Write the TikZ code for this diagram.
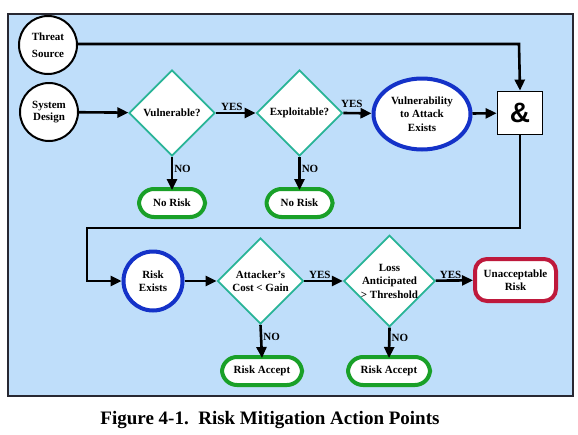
\documentclass[tikz,border=0pt]{standalone}
\usepackage{fontspec}
\setmainfont{Liberation Serif}
\newfontfamily\ampfont{Liberation Sans}
\usetikzlibrary{shapes.geometric,arrows.meta}
\definecolor{panelbg}{RGB}{191,222,250}
\definecolor{panelline}{RGB}{40,40,50}
\definecolor{teal}{RGB}{40,180,150}
\definecolor{okgreen}{RGB}{25,160,40}
\definecolor{exblue}{RGB}{20,50,200}
\definecolor{riskred}{RGB}{190,25,60}
\tikzset{
  txt/.style={font=\bfseries\fontsize{11}{13.5}\selectfont, align=center, text=black},
  source/.style={txt, circle, draw=black, line width=2pt, fill=white, minimum size=58pt, inner sep=0pt},
  decision/.style={txt, diamond, draw=teal, line width=1.8pt, fill=white, minimum width=86pt, minimum height=86pt, inner sep=0pt},
  outcome/.style={txt, rectangle, rounded corners=15pt, draw=okgreen, line width=4pt, fill=white, minimum width=66pt, minimum height=28pt, inner sep=0pt},
  state/.style={txt, draw=exblue, line width=4pt, fill=white, inner sep=0pt},
  flow/.style={line width=2.6pt, draw=black, -{Triangle[length=11pt,width=10pt]}},
  lbl/.style={font=\bfseries\fontsize{11}{13}\selectfont, inner sep=1pt},
}
\begin{document}
\begin{tikzpicture}[x=1pt,y=-1pt]
\useasboundingbox (0,0) rectangle (578,434);
\fill[white] (0,0) rectangle (578,434);
\draw[fill=panelbg, draw=panelline, line width=1.2pt] (8,14) rectangle (573,396);

% top row
\node[source, font=\bfseries\fontsize{11}{17}\selectfont] (threat) at (48,45) {Threat\\Source};
\node[source, font=\bfseries\fontsize{11}{12.5}\selectfont] (design) at (49,112) {System\\Design};
\node[decision] (vuln) at (172,113) {Vulnerable?};
\node[decision] (expl) at (299.5,113) {Exploitable?};
\node[state, ellipse, minimum width=97pt, minimum height=71pt] (vexist) at (422,114) {Vulnerability\\to Attack\\Exists};
\node[rectangle, draw=black, line width=1.8pt, fill=white, minimum width=45pt, minimum height=43pt, inner sep=0pt, font=\ampfont\bfseries\fontsize{28}{28}\selectfont] (and) at (520,113) {\&};
\node[outcome] (norisk1) at (172,203) {No Risk};
\node[outcome] (norisk2) at (299.5,203) {No Risk};

% bottom row
\node[state, circle, minimum size=59pt] (rexist) at (153,281) {Risk\\Exists};
\node[decision] (cost) at (260.5,281) {Attacker's\\Cost < Gain};
\node[decision] (loss) at (389.5,281) {Loss\\Anticipated\\> Threshold};
\node[txt, rectangle, rounded corners=12pt, draw=riskred, line width=4pt, fill=white, minimum width=81pt, minimum height=42pt, inner sep=0pt] (unacc) at (515.5,280) {Unacceptable\\Risk};
\node[outcome, minimum width=80pt] (accept1) at (262,371) {Risk Accept};
\node[outcome, minimum width=82pt] (accept2) at (389,371) {Risk Accept};

\coordinate (tcorner) at (519,44);
\coordinate (rdown) at (520,228);
\coordinate (rleft) at (87,228);
\coordinate (rmid) at (87,281);

% connectors
\draw[flow] (threat.east |- tcorner) -- (tcorner) -- (and.north);
\draw[flow] (design) -- (vuln);
\draw[flow] (vuln) -- node[lbl, above, pos=0.4] {YES} (expl);
\draw[flow] (expl.east) -- node[lbl, above, pos=0.3, yshift=3pt] {YES} (vexist);
\draw[flow] (vexist) -- (and);
\draw[flow] (vuln.south) -- node[lbl, right, pos=0.35] {NO} ([yshift=-3pt]norisk1.north);
\draw[flow] (expl.south) -- node[lbl, right, pos=0.35] {NO} ([yshift=-3pt]norisk2.north);
\draw[flow] (and.south) -- (rdown) -- (rleft) -- (rmid) -- (rexist);
\draw[flow] (rexist) -- (cost);
\draw[flow] (cost) -- node[lbl, above, pos=0.4] {YES} (loss);
\draw[flow] (loss) -- node[lbl, above, pos=0.4] {YES} (unacc);
\draw[flow] (cost.south) -- node[lbl, right, pos=0.35] {NO} ([yshift=-3pt]accept1.north);
\draw[flow] (loss.south) -- node[lbl, right, pos=0.35] {NO} ([yshift=-3pt]accept2.north);

% caption
\node[font=\bfseries\fontsize{19}{21}\selectfont, anchor=base] (caption) at (270,424) {Figure 4-1.\ \ Risk Mitigation Action Points};
\end{tikzpicture}
\end{document}
